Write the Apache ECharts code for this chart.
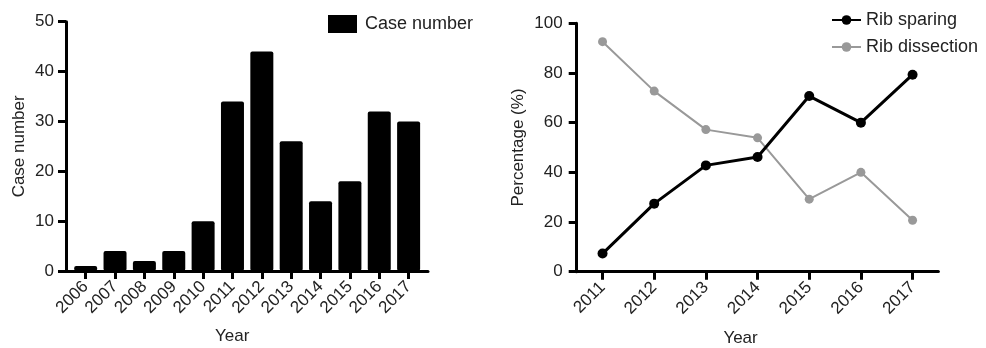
<!DOCTYPE html>
<html>
<head>
<meta charset="utf-8">
<script src="https://cdn.jsdelivr.net/npm/echarts@6/dist/echarts.min.js"></script>
<style>html,body{margin:0;padding:0;background:#fff}#c{width:986px;height:348px}</style>
</head>
<body>
<div id="c"></div>
<script>
const barYears = ['2006','2007','2008','2009','2010','2011','2012','2013','2014','2015','2016','2017'];
const caseNumber = [1, 4, 2, 4, 10, 34, 44, 26, 14, 18, 32, 30];
const lineYears = ['2011','2012','2013','2014','2015','2016','2017'];
const ribSparing = [7.3, 27.4, 42.8, 46.2, 70.7, 60.0, 79.3];
const ribDissection = [92.6, 72.7, 57.2, 53.9, 29.2, 40.0, 20.7];
const leftTicks = [0, 10, 20, 30, 40, 50];
const rightTicks = [0, 20, 40, 60, 80, 100];

const FONT = 'Liberation Sans, Arial, Helvetica, sans-serif';
const TXT = '#222';
const chart = echarts.init(document.getElementById('c'), null, {renderer: 'canvas'});
const axisLineStyle = {show: true, lineStyle: {color: '#000', width: 3}};
function tickStyle(extra) {
  return Object.assign({show: true, inside: false, length: 8, lineStyle: {color: '#000', width: 3}}, extra || {});
}

chart.setOption({
  animation: false,
  textStyle: {fontFamily: FONT, color: TXT},
  grid: [
    {left: 66, top: 21.7, width: 362, height: 249.3, containLabel: false, outerBoundsMode: 'none'},
    {left: 71, top: 21.7, width: 352.3, height: 249.3, containLabel: false, outerBoundsMode: 'none'},
    {left: 576.7, top: 23.3, width: 361.7, height: 248.4, containLabel: false, outerBoundsMode: 'none'}
  ],
  legend: [
    {
      data: [{name: 'Case number', icon: 'rect'}],
      left: 323, top: 10, itemWidth: 29, itemHeight: 18,
      textStyle: {fontSize: 18, color: TXT, fontFamily: FONT, padding: [0, 0, 0, 3]}
    },
    {
      data: ['Rib sparing', 'Rib dissection'],
      orient: 'vertical', left: 826, top: 6, itemWidth: 29, itemHeight: 12, itemGap: 9,
      textStyle: {fontSize: 18, color: TXT, fontFamily: FONT, lineHeight: 18}
    }
  ],
  xAxis: [
    {
      type: 'value', gridIndex: 0, min: 0, max: 1,
      axisLine: axisLineStyle, axisTick: {show: false}, axisLabel: {show: false}, splitLine: {show: false}
    },
    {
      type: 'category', gridIndex: 1, data: barYears,
      axisLine: {show: false},
      axisTick: tickStyle({alignWithLabel: true}),
      axisLabel: {rotate: 45, fontSize: 17, color: TXT, fontFamily: FONT, margin: 13, interval: 0},
      name: 'Year', nameLocation: 'middle', nameGap: 57,
      nameTextStyle: {fontSize: 17, color: TXT, fontFamily: FONT, padding: [0, 30, 0, 0]}
    },
    {
      type: 'category', gridIndex: 2, data: lineYears, boundaryGap: true,
      axisLine: axisLineStyle,
      axisTick: tickStyle({alignWithLabel: true}),
      axisLabel: {rotate: 45, fontSize: 17, color: TXT, fontFamily: FONT, margin: 13, interval: 0},
      name: 'Year', nameLocation: 'middle', nameGap: 58,
      nameTextStyle: {fontSize: 17, color: TXT, fontFamily: FONT, padding: [0, 34, 0, 0]}
    }
  ],
  yAxis: [
    {
      type: 'value', gridIndex: 0, min: 0, max: 50, interval: 10,
      axisLine: axisLineStyle, axisTick: tickStyle(), splitLine: {show: false},
      axisLabel: {fontSize: 17, color: TXT, fontFamily: FONT, margin: 12,
        formatter: v => leftTicks.includes(v) ? String(v) : ''},
      name: 'Case number', nameLocation: 'middle', nameGap: 38,
      nameTextStyle: {fontSize: 17, color: TXT, fontFamily: FONT}
    },
    {
      type: 'value', gridIndex: 1, min: 0, max: 50, interval: 10, show: false, splitLine: {show: false}
    },
    {
      type: 'value', gridIndex: 2, min: 0, max: 100, interval: 20,
      axisLine: axisLineStyle, axisTick: tickStyle(), splitLine: {show: false},
      axisLabel: {fontSize: 17, color: TXT, fontFamily: FONT, margin: 14,
        formatter: v => rightTicks.includes(v) ? String(v) : ''},
      name: 'Percentage (%)', nameLocation: 'middle', nameGap: 50,
      nameTextStyle: {fontSize: 17, color: TXT, fontFamily: FONT}
    }
  ],
  series: [
    {
      name: 'Case number', type: 'bar', xAxisIndex: 1, yAxisIndex: 1,
      data: caseNumber, barWidth: 23,
      itemStyle: {color: '#000', borderRadius: 2}
    },
    {
      name: 'Rib sparing', type: 'line', xAxisIndex: 2, yAxisIndex: 2,
      data: ribSparing, symbol: 'circle', symbolSize: 10,
      lineStyle: {color: '#000', width: 3}, itemStyle: {color: '#000'}, z: 3
    },
    {
      name: 'Rib dissection', type: 'line', xAxisIndex: 2, yAxisIndex: 2,
      data: ribDissection, symbol: 'circle', symbolSize: 9,
      lineStyle: {color: '#999', width: 2}, itemStyle: {color: '#999'}, z: 2
    }
  ]
});
</script>
</body>
</html>
